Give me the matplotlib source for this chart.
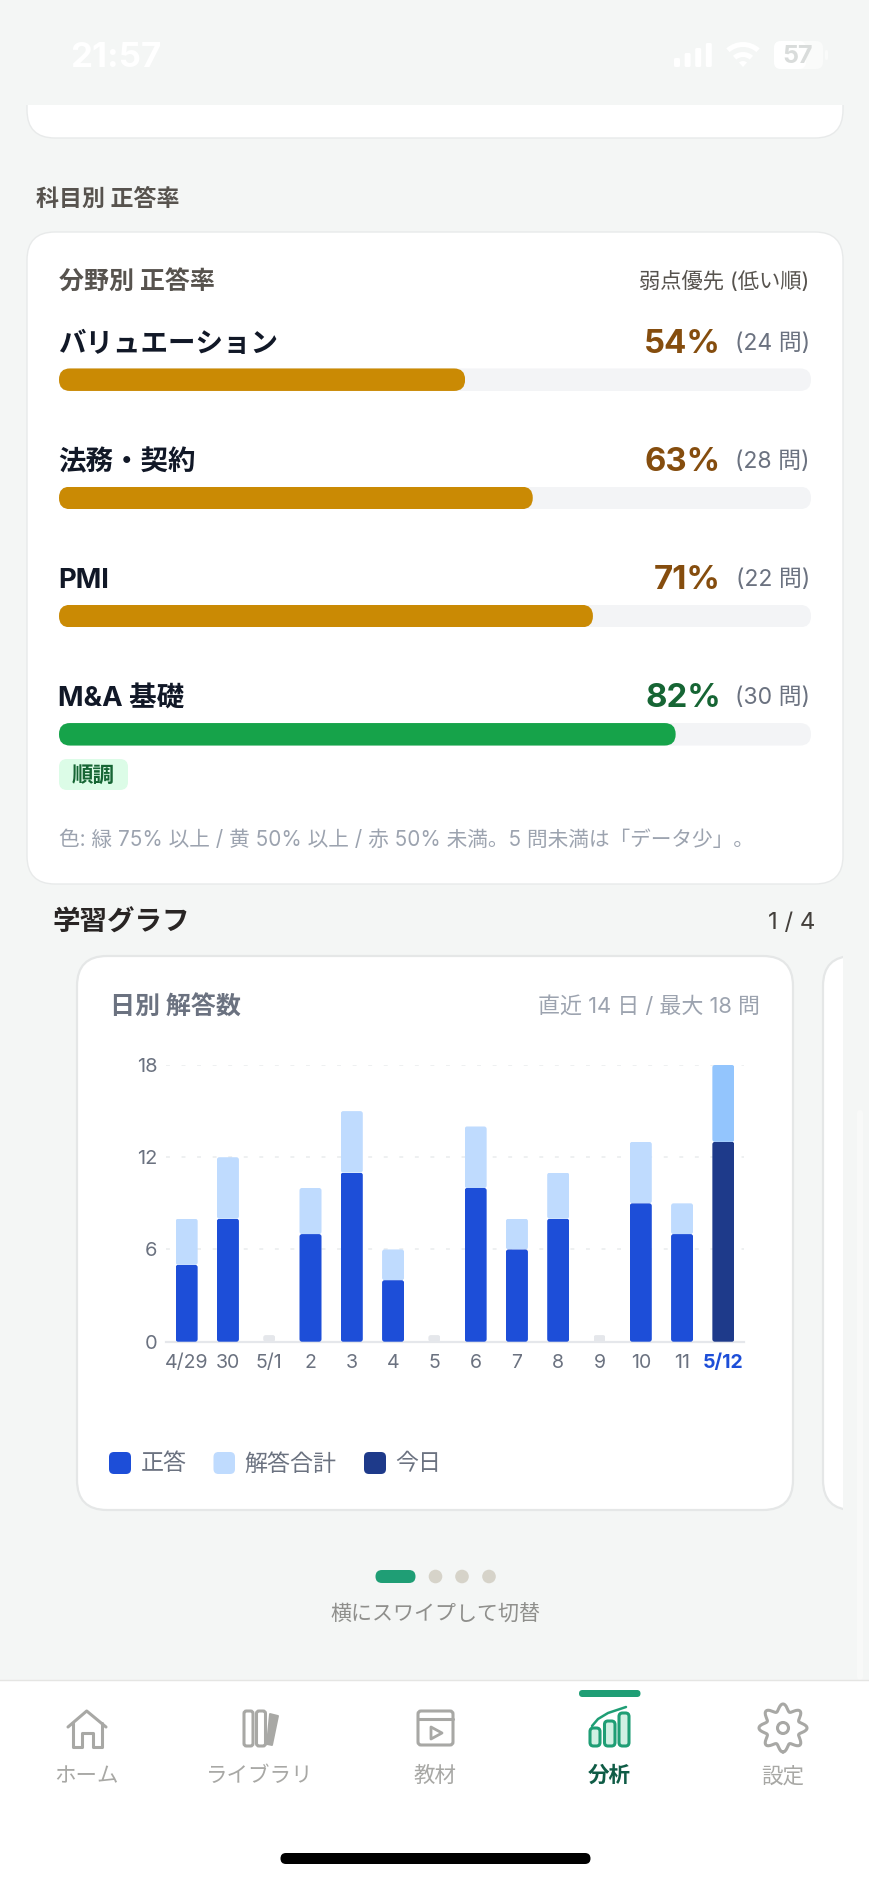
import numpy as np
import matplotlib
matplotlib.use('Agg')
from matplotlib import pyplot as plt
from matplotlib.patches import FancyBboxPatch, Circle, Polygon, Wedge

W, H = 870, 1882
plt.rcParams['font.family'] = ['Inter', 'Noto Sans CJK JP', 'DejaVu Sans']

# progress rows
subjects = ['バリュエーション', '法務・契約', 'PMI', 'M&A 基礎']
accuracy = [54, 63, 71, 82]
question_counts = [24, 28, 22, 30]

# daily chart
day_labels = ['4/29', '30', '5/1', '2', '3', '4', '5', '6', '7', '8', '9', '10', '11', '5/12']
correct = [5, 8, 0, 7, 11, 4, 0, 10, 6, 8, 0, 9, 7, 13]
total = [8, 12, 0, 10, 15, 6, 0, 14, 8, 11, 0, 13, 9, 18]
y_ticks = [0, 6, 12, 18]
empty_stub = 0.43

nav_labels = ['ホーム', 'ライブラリ', '教材', '分析', '設定']

BG = '#f4f6f5'
BORDER = '#e8eaea'
AMBER, AMBER_TEXT = '#ca8a04', '#854d0e'
GREEN, GREEN_TEXT = '#16a34a', '#166534'
TRACK = '#f3f4f6'
BLUE, LIGHT, DARK, TODAY_LIGHT = '#1d4ed8', '#bfdbfe', '#1e3a8a', '#93c5fd'
TEAL, TEAL_DARK, NAV_GRAY = '#1f9e75', '#0f5c46', '#a8a8a5'

fig = plt.figure(figsize=(W / 100, H / 100), dpi=100, facecolor=BG)

# whole page in pixel coordinates
ui = fig.add_axes([0, 0, 1, 1], zorder=0)
ui.set_xlim(0, W)
ui.set_ylim(H, 0)
ui.axis('off')


def axes_px(x0, y0, x1, y1, **kw):
    return fig.add_axes([x0 / W, 1 - y1 / H, (x1 - x0) / W, (y1 - y0) / H], **kw)


def box(x0, y0, x1, y1, r, color, edge='none', lw=0, z=1):
    p = FancyBboxPatch((x0, y0), x1 - x0, y1 - y0, boxstyle=f'round,pad=0,rounding_size={r}',
                       fc=color, ec=edge, lw=lw, zorder=z)
    ui.add_patch(p)
    return p


def txt(x, y, s, px, color, ha='left', weight='normal', **kw):
    # +2: centre of the glyphs sits a bit lower than matplotlib's text box
    return ui.text(x, y + 2, s, fontsize=px * 0.72, color=color, ha=ha, va='center', weight=weight, **kw)


def stroke(xs, ys, color, lw=2.2, z=3):
    ui.plot(xs, ys, color=color, lw=lw, solid_capstyle='round', solid_joinstyle='round', zorder=z)


def round_bars(bars, ax, r):
    # real bars, clipped to a rounded box of their own size
    for rect in bars:
        corners = ax.transData.transform(rect.get_bbox().get_points())
        (x0, y0), (x1, y1) = ui.transData.inverted().transform(corners)
        x0, x1 = sorted((x0, x1))
        y0, y1 = sorted((y0, y1))
        clip = FancyBboxPatch((x0, y0), x1 - x0, y1 - y0, boxstyle=f'round,pad=0,rounding_size={r}',
                              transform=ui.transData)
        rect.set_clip_path(clip)


# status bar
txt(70, 56, '21:57', 35, 'white', weight='bold', zorder=5)
for i, top in enumerate([58, 53, 48, 43]):
    box(674 + i * 10.6, top, 680 + i * 10.6, 67, 1.5, 'white', z=5)
# y runs downward here, so the fan opens at 228-312 degrees
for r, w in [(25, 5), (15, 5)]:
    ui.add_patch(Wedge((743, 67), r, 228, 312, width=w, fc='white', ec='none', zorder=5))
ui.add_patch(Wedge((743, 67), 6, 228, 312, fc='white', ec='none', zorder=5))
box(774, 41, 823, 69, 7, '#fafbfa', z=5)
box(774, 41, 806, 69, 7, 'white', z=5)
box(825, 50, 828, 60, 1.5, '#fafbfa', z=5)
txt(798, 54, '57', 25, '#d9dcdb', ha='center', weight='bold', zorder=6)

# top card, cut by the status area
box(27, 75, 843, 138, 28, 'white', BORDER, 1)
ui.fill_between([20, 850], 70, 105, color=BG, lw=0, zorder=2)

txt(36, 198, '科目別 正答率', 23, '#57534e', weight='bold')

# subject card
box(27, 232, 843, 884, 28, 'white', BORDER, 1)
txt(59, 281, '分野別 正答率', 25, '#57534e', weight='bold')
txt(809, 279.5, '弱点優先 (低い順)', 21.3, '#57534e', ha='right')

row_top, row_step = 379.7, 118.2
bars_ax = axes_px(59, row_top - row_step / 2, 811, row_top + row_step * 3.5, zorder=1)
bars_ax.set_xlim(0, 100)
bars_ax.set_ylim(3.5, -0.5)
bars_ax.axis('off')
rows = np.arange(len(subjects))
bar_h = 22.5 / row_step
tracks = bars_ax.barh(rows, [100] * len(rows), height=bar_h, color=TRACK)
fills = bars_ax.barh(rows, accuracy, height=bar_h,
                     color=[GREEN if v >= 75 else AMBER for v in accuracy])
round_bars(tracks, bars_ax, 11)
round_bars(fills, bars_ax, 11)

for i, name in enumerate(subjects):
    y = 342.5 + row_step * i
    c = GREEN_TEXT if accuracy[i] >= 75 else AMBER_TEXT
    txt(58, y, name, 27.5, '#111827', weight='bold')
    txt(721, y - 0.5, f'{accuracy[i]}%', 33, c, ha='right', weight='bold')
    txt(810, y - 1, f'({question_counts[i]} 問)', 23, '#6b7280', ha='right')

box(59, 759, 128, 790, 8, '#dcfce7')
txt(93.5, 773.5, '順調', 21.5, GREEN_TEXT, ha='center', weight='bold')
txt(59, 838, '色: 緑 75% 以上 / 黄 50% 以上 / 赤 50% 未満。5 問未満は「データ少」。', 20.7, '#9ca3af')

# graph header
txt(53, 921.5, '学習グラフ', 27.5, '#292524', weight='bold')
txt(815, 920.5, '1 / 4', 24, '#44403c', ha='right')

# chart card + next card peeking in
box(77, 956, 793, 1510, 30, 'white', '#e5e7e7', 1.6)
box(823, 956, 880, 1510, 30, 'white', '#e5e7e7', 1.6)
ui.fill_between([843.5, 870], 950, 1520, color=BG, lw=0, zorder=2)
# page scrollbar, barely visible
box(857, 1110, 863, 1680, 3, '#f8f9f8', z=2)

txt(110.5, 1006, '日別 解答数', 25, '#6b7280', weight='bold')
txt(760, 1004.5, '直近 14 日 / 最大 18 問', 22, '#9ca3af', ha='right')

# stacked daily bars
ax = axes_px(166, 1065, 744, 1341.7, zorder=1)
ax.patch.set_alpha(0)
x = np.arange(len(day_labels))
ax.set_xlim(-0.5, 13.5)
ax.set_ylim(0, 18)
bar_w = 0.533
today = len(day_labels) - 1
answered = [i for i in x if total[i] > 0]
empty = [i for i in x if total[i] == 0]

ax.yaxis.grid(True, color='#eef0f1', lw=1.4, linestyle=(0, (2, 6)), zorder=0)
ax.set_axisbelow(True)
low = ax.bar(answered, [correct[i] for i in answered], bar_w, zorder=3,
             color=[DARK if i == today else BLUE for i in answered])
high = ax.bar(answered, [total[i] - correct[i] for i in answered], bar_w,
              bottom=[correct[i] for i in answered], zorder=2,
              color=[TODAY_LIGHT if i == today else LIGHT for i in answered])
stubs = ax.bar(empty, [empty_stub] * len(empty), 0.29, color='#e5e7eb', zorder=2)
round_bars(low, ax, 2.5)
round_bars(high, ax, 2.5)
round_bars(stubs, ax, 2.5)

for s in ['top', 'right', 'left']:
    ax.spines[s].set_visible(False)
ax.spines['bottom'].set_color('#e5e7eb')
ax.spines['bottom'].set_linewidth(1.6)
ax.set_yticks(y_ticks)
ax.set_xticks(x)
ax.set_xticklabels(day_labels)
ax.tick_params(length=0)
ax.tick_params(axis='y', labelsize=20 * 0.72, labelcolor='#6b7280', pad=6)
ax.tick_params(axis='x', labelsize=19.5 * 0.72, labelcolor='#6b7280', pad=9)
tick = ax.get_xticklabels()[today]
tick.set_color(BLUE)
tick.set_fontweight('bold')

# legend
for x0, x1, tx, c, label in [(109, 131, 140.5, BLUE, '正答'), (213.5, 235, 244.5, LIGHT, '解答合計'),
                             (364, 386, 395, DARK, '今日')]:
    box(x0, 1452, x1, 1474, 5, c)
    txt(tx, 1462.5, label, 23, '#6b7280')

# pager
box(375.5, 1570, 415.5, 1583, 6.5, TEAL)
for cx in [435.5, 462, 489]:
    ui.add_patch(Circle((cx, 1576.5), 6.8, fc='#d6d3c9', ec='none'))
txt(435, 1613, '横にスワイプして切替', 21, '#8f8f8c', ha='center')

# bottom nav
ui.fill_between([0, W], 1680, H, color='white', lw=0, zorder=3)
ui.plot([0, W], [1680, 1680], color='#e5e5e3', lw=1, zorder=4)
box(579, 1690, 640.5, 1697, 3.5, TEAL, z=4)
for cx, label in zip([86, 260, 435, 609, 783], nav_labels):
    active = label == '分析'
    txt(cx, 1774, label, 21.5, TEAL_DARK if active else NAV_GRAY, ha='center',
        weight='bold' if active else 'normal', zorder=4)

# home icon
stroke([68, 86.7, 106], [1727, 1711, 1727], NAV_GRAY)
stroke([72.7, 72.7, 81.7, 81.7, 93, 93, 101.7, 101.7], [1723, 1747, 1747, 1733, 1733, 1747, 1747, 1723], NAV_GRAY)

# library icon
box(244, 1711, 253, 1746, 2.5, 'none', NAV_GRAY, 2.2, z=4)
box(256.5, 1711, 265.5, 1746, 2.5, 'none', NAV_GRAY, 2.2, z=4)
ui.add_patch(Polygon([(270, 1714), (278, 1716), (272, 1745), (267, 1744)], closed=True, fc=NAV_GRAY,
                     ec=NAV_GRAY, lw=1.4, joinstyle='round', zorder=4))

# material icon
box(418, 1711, 453, 1745, 3, 'none', NAV_GRAY, 2.2, z=4)
stroke([418, 453], [1719, 1719], NAV_GRAY, z=4)
ui.add_patch(Polygon([(431, 1727), (442, 1733), (431, 1739)], closed=True, fc='none', ec=NAV_GRAY,
                     lw=2.0, joinstyle='round', zorder=4))

# analysis icon
for x0, x1, y0 in [(590, 600, 1728), (604.5, 615, 1721), (619, 629, 1713)]:
    box(x0, y0, x1, 1746, 3.5, '#d1f0e3', TEAL, 2.2, z=4)
stroke([592, 598, 608, 617, 626], [1726, 1719, 1713, 1710, 1707], TEAL, lw=1.8, z=4)

# gear icon
ang = np.linspace(0, 2 * np.pi, 240)
rad = 20.5 + 3.5 * np.cos(8 * ang)
stroke(783 + rad * np.sin(ang), 1728 + rad * np.cos(ang), NAV_GRAY, z=4)
ui.add_patch(Circle((783, 1728), 5.5, fc='none', ec=NAV_GRAY, lw=2.2, zorder=4))

# home indicator
box(280.5, 1853, 590.5, 1864, 5.5, 'black', z=4)

fig.savefig('out.png', dpi=100, facecolor=BG)
